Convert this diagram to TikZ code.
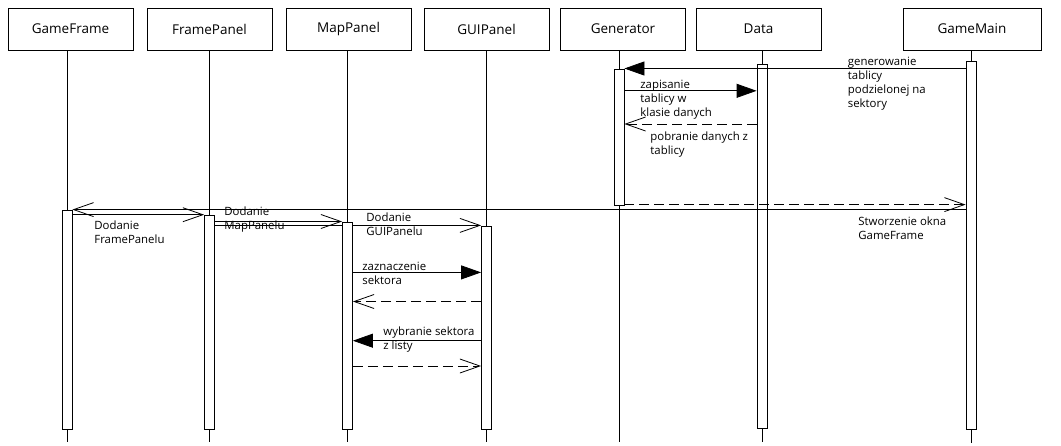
\documentclass[tikz,border=0pt]{standalone}
\usepackage{fontspec}
\setmainfont{Open Sans}
\usetikzlibrary{arrows.meta}

\begin{document}
\begin{tikzpicture}[x=1pt,y=-1pt,line width=0.8pt,
        head/.style={draw,minimum width=125pt,minimum height=42pt,inner sep=0pt,font=\fontsize{13.5}{16}\selectfont},
        act/.style={draw,fill=white,minimum width=10pt,inner sep=0pt,anchor=north},
        call/.style={-{Triangle[length=20pt,width=14pt]}},
        msg/.style={-{Straight Barb[length=20pt,width=14pt]}},
        back/.style={msg,dash pattern=on 10pt off 5pt},
        lbl/.style={anchor=north west,inner sep=0pt,align=left,font=\fontsize{11.4}{14}\selectfont}]
        \useasboundingbox (0,0) rectangle (1061,445);

        \node[head] (hGameFrame) at (70.5,29) {GameFrame};
        \node[head] (hFramePanel) at (209.5,29) {FramePanel};
        \node[head] (hMapPanel) at (348.5,29) {MapPanel};
        \node[head] (hGUIPanel) at (486.5,29) {GUIPanel};
        \node[head] (hGenerator) at (623,29) {Generator};
        \node[head] (hData) at (758.5,29) {Data};
        \node[head,minimum width=138pt] (hGameMain) at (972,29) {GameMain};

        \coordinate (eGameFrame) at (67,442);
        \coordinate (eFramePanel) at (209.5,442);
        \coordinate (eMapPanel) at (347.5,442);
        \coordinate (eGUIPanel) at (486.5,442);
        \coordinate (eGenerator) at (619,442);
        \coordinate (eData) at (762,442);
        \coordinate (eGameMain) at (971,443);
        \foreach \n in {GameFrame,FramePanel,MapPanel,GUIPanel,Generator,Data,GameMain}
            \draw (h\n.south -| e\n) -- (e\n);

        \node[act,minimum height=219pt] (aGameFrame) at (67,209.6) {};
        \node[act,minimum height=213.8pt] (aFramePanel) at (209.5,214.7) {};
        \node[act,minimum height=206.5pt] (aMapPanel) at (347.5,222) {};
        \node[act,minimum height=202.7pt] (aGUIPanel) at (486.5,225.8) {};
        \node[act,minimum height=136pt] (aGenerator) at (619,68.5) {};
        \node[act,minimum height=364pt] (aData) at (762,64.4) {};
        \node[act,minimum height=367.5pt] (aGameMain) at (971,61) {};

        \draw[call] (aGameMain.west |- 0,68.5) -- (aGenerator.east |- 0,68.5);
        \node[lbl] (lGenerowanie) at (847.5,57) {generowanie\\tablicy\\podzielonej na\\sektory};

        \draw[call] (aGenerator.east |- 0,90.8) -- (aData.west |- 0,90.8);
        \node[lbl] (lZapisanie) at (640,80) {zapisanie\\tablicy w\\klasie danych};

        \draw[back] (aData.west |- 0,124) -- (aGenerator.east |- 0,124);
        \node[lbl] (lPobranie) at (650,131.5) {pobranie danych z\\tablicy};

        \draw[back] (aGenerator.east |- 0,204.6) -- (aGameMain.west |- 0,204.6);

        \draw[msg] (aGameMain.west |- 0,209.6) -- (aGameFrame.east |- 0,209.6);
        \node[lbl] (lStworzenie) at (858,216) {Stworzenie okna\\GameFrame};

        \draw[msg] (aGameFrame.east |- 0,214.7) -- (aFramePanel.west |- 0,214.7);
        \node[lbl] (lFramePanelu) at (94,220.5) {Dodanie\\FramePanelu};

        \draw[msg] (aFramePanel.east |- 0,221.5) -- (aMapPanel.west |- 0,221.5);
        \draw (aFramePanel.east |- 0,225.4) -- (aMapPanel.west |- 0,225.4);
        \node[lbl] (lMapPanelu) at (224,206.5) {Dodanie\\MapPanelu};

        \draw[msg] (aMapPanel.east |- 0,225.4) -- (aGUIPanel.west |- 0,225.4);
        \node[lbl] (lGUIPanelu) at (366,212.5) {Dodanie\\GUIPanelu};

        \draw[call] (aMapPanel.east |- 0,272.4) -- (aGUIPanel.west |- 0,272.4);
        \node[lbl] (lZaznaczenie) at (362,261.5) {zaznaczenie\\sektora};

        \draw[back] (aGUIPanel.west |- 0,301.5) -- (aMapPanel.east |- 0,301.5);

        \draw[call] (aGUIPanel.west |- 0,340.7) -- (aMapPanel.east |- 0,340.7);
        \node[lbl] (lWybranie) at (383,326.5) {wybranie sektora\\z listy};

        \draw[back] (aMapPanel.east |- 0,366) -- (aGUIPanel.west |- 0,366);
    \end{tikzpicture}
\end{document}
